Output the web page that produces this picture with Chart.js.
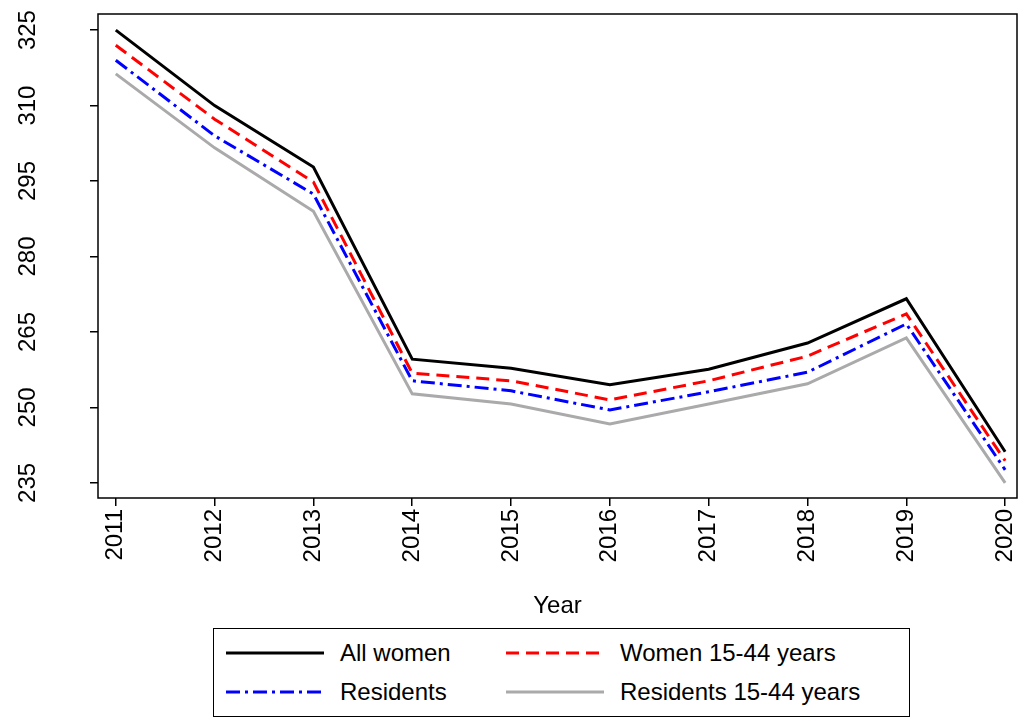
<!DOCTYPE html>
<html>
<head>
<meta charset="utf-8">
<script src="https://cdn.jsdelivr.net/npm/chart.js@4"></script>
<style>
  body { margin: 0; background: #fff; font-family: "Liberation Sans", Arial, sans-serif; }
  #wrap { position: relative; width: 1020px; height: 625px; }
  #legend {
    position: absolute; left: 213px; top: 628px; width: 697px; height: 89px;
    border: 1.5px solid #000; box-sizing: border-box;
    display: grid; grid-template-columns: 280px 380px; grid-template-rows: 1fr 1fr;
    padding: 4px 0 4px 12px; font-size: 24px; align-items: center;
  }
  .item { display: flex; align-items: center; }
  .item svg { margin-right: 16px; }
</style>
</head>
<body>
<div id="wrap"><canvas id="chart" width="1020" height="625"></canvas></div>
<div id="legend"></div>
<script>
const years = ['2011','2012','2013','2014','2015','2016','2017','2018','2019','2020'];
const yTicks = [235, 250, 265, 280, 295, 310, 325];
const allWomen     = [325, 310, 297.8, 259.6, 257.8, 254.5, 257.6, 262.8, 271.6, 241.2];
const women1544    = [322, 307.3, 294.8, 256.8, 255.3, 251.5, 255.3, 260.2, 268.6, 239.4];
const residents    = [319, 304, 292.4, 255.3, 253.3, 249.5, 253.1, 257, 266.6, 237.6];
const residents1544 = [316.3, 301.6, 289, 252.7, 250.7, 246.7, 250.7, 254.7, 263.8, 235];

const series = [
    { label: 'All women', data: allWomen, color: '#000000', dash: [] },
    { label: 'Women 15-44 years', data: women1544, color: '#ff0000', dash: [13, 7] },
    { label: 'Residents', data: residents, color: '#0000ff', dash: [14, 5, 3, 5] },
    { label: 'Residents 15-44 years', data: residents1544, color: '#aaaaaa', dash: [] }
];

const frameAndYLabels = {
    id: 'frameAndYLabels',
    afterDraw(chart) {
        const { ctx, chartArea: a } = chart;
        const y = chart.scales.y;
        ctx.save();
        ctx.strokeStyle = '#000';
        ctx.lineWidth = 1.5;
        ctx.strokeRect(a.left, a.top, a.right - a.left, a.bottom - a.top);
        ctx.fillStyle = '#000';
        ctx.font = '24px "Liberation Sans", Arial';
        ctx.textAlign = 'center';
        ctx.textBaseline = 'middle';
        yTicks.forEach(v => {
            const py = y.getPixelForValue(v);
            ctx.save();
            ctx.translate(28, py);
            ctx.rotate(-Math.PI / 2);
            ctx.fillText(String(v), 0, 0);
            ctx.restore();
        });
        ctx.restore();
    }
};

new Chart(document.getElementById('chart'), {
    type: 'line',
    data: {
        datasets: series.map(s => ({
            label: s.label,
            data: s.data.map((v, i) => ({ x: i, y: v })),
            borderColor: s.color,
            borderDash: s.dash,
            borderWidth: 3,
            pointRadius: 0,
            tension: 0,
            fill: false
        }))
    },
    options: {
        responsive: false,
        animation: false,
        layout: { padding: { top: 14, right: 3 } },
        plugins: { legend: { display: false }, tooltip: { enabled: false } },
        scales: {
            x: {
                type: 'linear',
                min: -0.18, max: 9.12,
                afterBuildTicks: sc => { sc.ticks = years.map((_, i) => ({ value: i })); },
                grid: { drawOnChartArea: false, tickLength: 8, color: '#000', lineWidth: 1.5 },
                border: { display: false },
                ticks: {
                    color: '#000', font: { size: 24, family: '"Liberation Sans", Arial' },
                    maxRotation: 90, minRotation: 90, autoSkip: false,
                    callback: v => years[v]
                },
                title: { display: true, text: 'Year', color: '#000', font: { size: 24, family: '"Liberation Sans", Arial' }, padding: { top: 0 } },
                afterFit: sc => { sc.height = 127; sc.paddingLeft = 0; sc.paddingRight = 0; }
            },
            y: {
                min: 232, max: 328.2,
                afterBuildTicks: sc => { sc.ticks = yTicks.map(v => ({ value: v })); },
                grid: { drawOnChartArea: false, tickLength: 8, color: '#000', lineWidth: 1.5 },
                border: { display: false },
                ticks: { display: false },
                afterFit: sc => { sc.width = 98; }
            }
        }
    },
    plugins: [frameAndYLabels]
});

// legend in html, two columns
const legend = document.getElementById('legend');
series.forEach(s => {
    const item = document.createElement('div');
    item.className = 'item';
    item.innerHTML = `<svg width="98" height="10"><line x1="0" y1="5" x2="98" y2="5" stroke="${s.color}" stroke-width="3" stroke-dasharray="${s.dash.join(',')}"/></svg><span>${s.label}</span>`;
    legend.appendChild(item);
});
</script>
</body>
</html>
